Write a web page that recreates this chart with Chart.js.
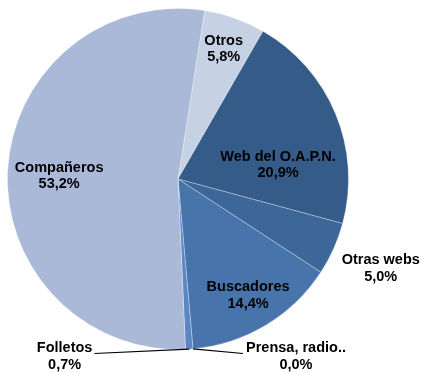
<!DOCTYPE html>
<html>
<head>
<meta charset="utf-8">
<script src="https://cdn.jsdelivr.net/npm/chart.js@4/dist/chart.umd.min.js"></script>
<style>
  html, body { margin: 0; padding: 0; background: #fff; }
  #pie { display: block; }
</style>
</head>
<body>
<canvas id="pie" width="422" height="373"></canvas>
<script>
// Slices, clockwise from the top
const categories = ['Otros', 'Web del O.A.P.N.', 'Otras webs', 'Buscadores', 'Prensa, radio..', 'Folletos', 'Compañeros'];
const shares = [5.8, 20.9, 5.0, 14.4, 0.0, 0.7, 53.2];
const sliceColors = ['#c6d1e4', '#355b89', '#3d6699', '#4774ab', '#5a86c2', '#5a86c2', '#a9b9d7'];

// label centre, in units of the radius from the pie centre
const labelOffsets = [
    [0.268, -0.763],
    [0.587, -0.085],
    [1.189, 0.523],
    [0.411, 0.681],
    [0.692, 1.041],
    [-0.665, 1.041],
    [-0.697, -0.018]
];
// slices whose label sits outside and gets a leader line
const leaderLines = { 4: 'right', 5: 'left' };

const fmt = v => v.toFixed(1).replace('.', ',') + '%';

const pieLabels = {
    id: 'pieLabels',
    afterDatasetsDraw(chart) {
        const ctx = chart.ctx;
        const arcs = chart.getDatasetMeta(0).data;
        ctx.save();
        ctx.font = 'bold 14.5px "Liberation Sans", Arial, sans-serif';
        ctx.fillStyle = '#000';
        ctx.textAlign = 'center';
        ctx.textBaseline = 'middle';
        arcs.forEach((arc, i) => {
            const r = arc.outerRadius;
            const cx = arc.x + labelOffsets[i][0] * r;
            const cy = arc.y + labelOffsets[i][1] * r;
            const name = categories[i];
            ctx.fillText(name, cx, cy - 8);
            ctx.fillText(fmt(shares[i]), cx, cy + 8.5);

            const side = leaderLines[i];
            if (side) {
                const mid = (arc.startAngle + arc.endAngle) / 2;
                const ex = arc.x + Math.cos(mid) * r;
                const ey = arc.y + Math.sin(mid) * r;
                const w = ctx.measureText(name).width;
                const tx = side === 'right' ? cx - w / 2 - 3 : cx + w / 2 + 2;
                const ty = cy - 3;
                ctx.beginPath();
                ctx.strokeStyle = '#000';
                ctx.lineWidth = 1.2;
                ctx.moveTo(ex, ey);
                ctx.lineTo(tx, ty);
                ctx.stroke();
            }
        });
        ctx.restore();
    }
};

new Chart(document.getElementById('pie'), {
    type: 'pie',
    data: {
        labels: categories,
        datasets: [{
            data: shares,
            backgroundColor: sliceColors,
            borderColor: 'rgba(255, 255, 255, 0.3)',
            borderWidth: 1
        }]
    },
    options: {
        responsive: false,
        animation: false,
        rotation: 9,
        layout: {
            padding: { left: 7, right: 73, top: 8, bottom: 23 }
        },
        plugins: {
            legend: { display: false },
            tooltip: { enabled: false }
        }
    },
    plugins: [pieLabels]
});
</script>
</body>
</html>
